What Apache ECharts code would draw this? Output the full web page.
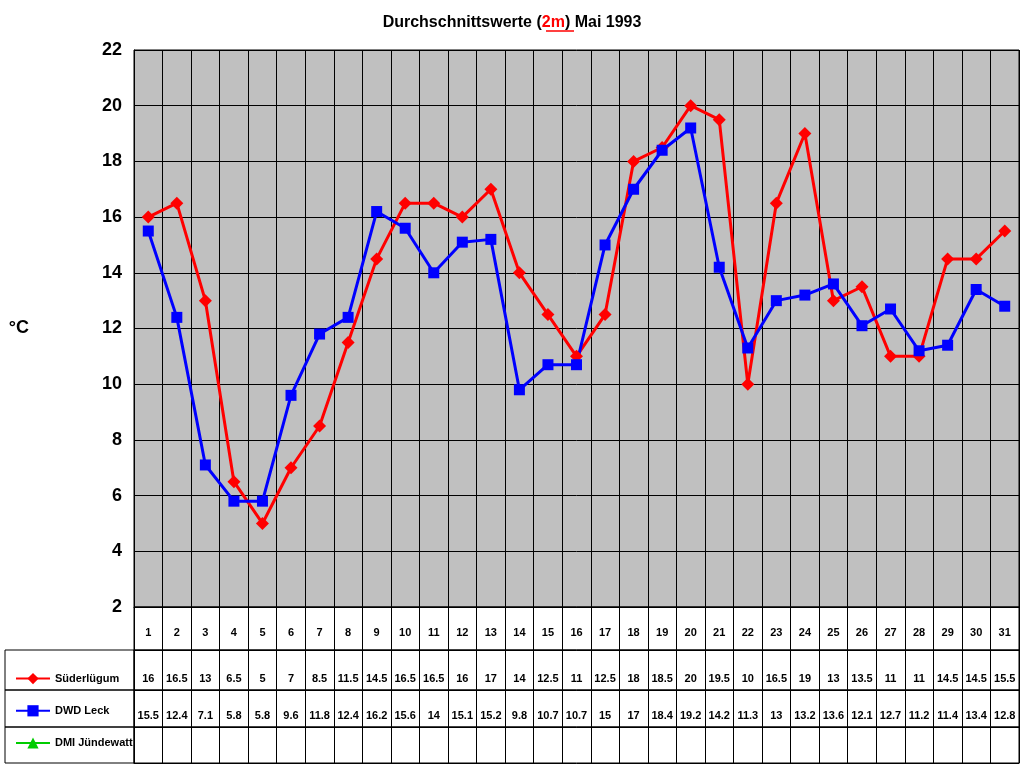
<!DOCTYPE html>
<html><head><meta charset="utf-8">
<script src="https://cdn.jsdelivr.net/npm/echarts@6/dist/echarts.min.js"></script>
<style>html,body{margin:0;background:#fff}#c{width:1024px;height:768px}</style>
</head><body><div id="c"></div>
<script>
const days = Array.from({length: 31}, (_, i) => String(i + 1));
const suederluegum = [16, 16.5, 13, 6.5, 5, 7, 8.5, 11.5, 14.5, 16.5, 16.5, 16, 17, 14, 12.5, 11, 12.5, 18, 18.5, 20, 19.5, 10, 16.5, 19, 13, 13.5, 11, 11, 14.5, 14.5, 15.5];
const dwdLeck = [15.5, 12.4, 7.1, 5.8, 5.8, 9.6, 11.8, 12.4, 16.2, 15.6, 14, 15.1, 15.2, 9.8, 10.7, 10.7, 15, 17, 18.4, 19.2, 14.2, 11.3, 13, 13.2, 13.6, 12.1, 12.7, 11.2, 11.4, 13.4, 12.8];
const dmiJuendewatt = [];

const font = 'Arial, "Liberation Sans", sans-serif';
const chart = echarts.init(document.getElementById('c'));

// table rows: [top, height, values]
const rows = [
  [607, 43, days, 12],
  [650, 40, suederluegum.map(String), 6],
  [690, 37, dwdLeck.map(String), 6],
  [727, 36, dmiJuendewatt.map(String), 6],
];

const grids = [{left: 134, right: 5, top: 50, bottom: 161, show: true, backgroundColor: '#C0C0C0', borderColor: '#000', borderWidth: 1}];
const xAxes = [{
  type: 'category', data: days, gridIndex: 0, boundaryGap: true,
  axisLabel: {show: false}, axisTick: {show: false},
  axisLine: {lineStyle: {color: '#000'}},
  splitLine: {show: true, lineStyle: {color: '#000', width: 1}}
}];
const yAxes = [{
  type: 'value', gridIndex: 0, min: 2, max: 22, interval: 2,
  name: '°C', nameLocation: 'middle', nameRotate: 0, nameGap: 105,
  nameTextStyle: {fontSize: 18, fontWeight: 'bold', color: '#000', fontFamily: font},
  axisLabel: {fontSize: 18, fontWeight: 'bold', color: '#000', fontFamily: font, margin: 12},
  axisLine: {show: true, lineStyle: {color: '#000'}}, axisTick: {show: false},
  splitLine: {lineStyle: {color: '#000', width: 1}}
}];

rows.forEach(([top, h, vals, m], i) => {
  grids.push({left: 134, right: 5, top: top, height: h, show: true, borderColor: '#000', borderWidth: 1});
  const gi = grids.length - 1;
  xAxes.push({
    type: 'category', gridIndex: gi, data: days, boundaryGap: true,
    axisLabel: {inside: true, margin: m, fontSize: 11, fontWeight: 'bold', color: '#000', fontFamily: font,
      formatter: (v, idx) => vals[idx] !== undefined ? vals[idx] : ''},
    axisTick: {show: false}, axisLine: {lineStyle: {color: '#000'}},
    splitLine: {show: true, lineStyle: {color: '#000', width: 1}}
  });
  yAxes.push({type: 'value', gridIndex: gi, show: false});
  if (i > 0) {
    grids.push({left: 5, width: 129, top: top, height: h, show: true, borderColor: '#000', borderWidth: 1});
    xAxes.push({type: 'value', gridIndex: grids.length - 1, show: false});
    yAxes.push({type: 'value', gridIndex: grids.length - 1, show: false});
  }
});

chart.setOption({
  animation: false,
  title: {
    text: '{a|Durchschnittswerte (}{b|2m}{a|) Mai 1993}', left: 'center', top: 10,
    textStyle: {rich: {
      a: {fontSize: 16, fontWeight: 'bold', color: '#000', fontFamily: font},
      b: {fontSize: 16, fontWeight: 'bold', color: '#f00', fontFamily: font}
    }}
  },
  legend: {
    orient: 'vertical', left: 10, top: 668, itemGap: 21, itemWidth: 34, itemHeight: 14,
    textStyle: {fontSize: 11, fontWeight: 'bold', color: '#000', fontFamily: font},
    data: ['Süderlügum', 'DWD Leck', 'DMI Jündewatt']
  },
  grid: grids, xAxis: xAxes, yAxis: yAxes,
  series: [
    {name: 'Süderlügum', type: 'line', data: suederluegum, symbol: 'diamond', symbolSize: 13,
     color: '#f00', lineStyle: {width: 3}},
    {name: 'DWD Leck', type: 'line', data: dwdLeck, symbol: 'rect', symbolSize: 11,
     color: '#00f', lineStyle: {width: 3}},
    {name: 'DMI Jündewatt', type: 'line', data: dmiJuendewatt, symbol: 'triangle', symbolSize: 12,
     color: '#0c0', lineStyle: {width: 3}}
  ],
  graphic: [{type: 'line', shape: {x1: 546, y1: 31, x2: 574, y2: 31}, style: {stroke: '#f00', lineWidth: 1.5}}]
});
</script></body></html>
